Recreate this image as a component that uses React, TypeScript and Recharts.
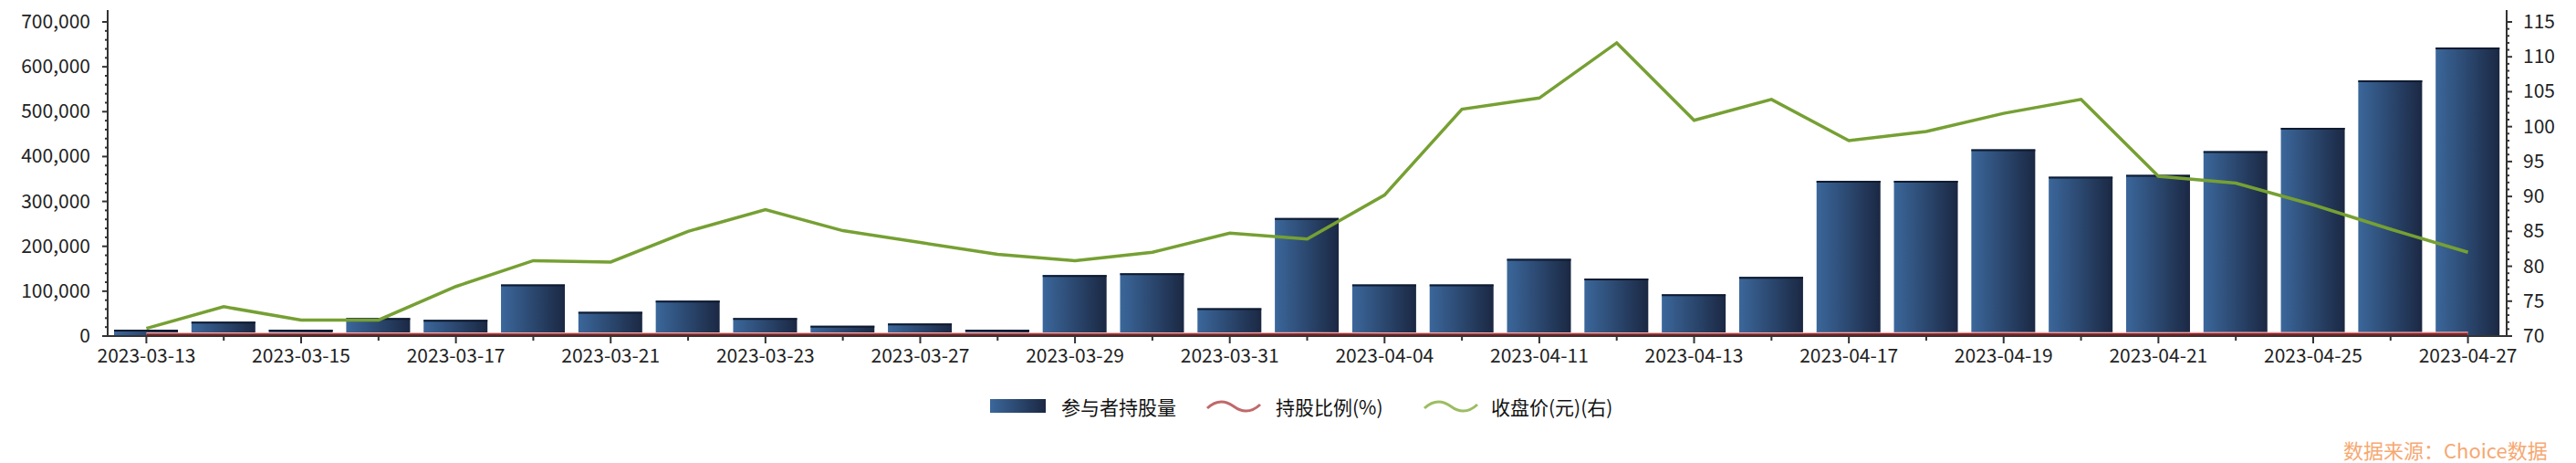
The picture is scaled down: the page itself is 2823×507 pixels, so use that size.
import React from 'react';
import { ComposedChart, Bar, Line, XAxis, YAxis } from 'recharts';

const dates = [
  '2023-03-13', '2023-03-14', '2023-03-15', '2023-03-16', '2023-03-17', '2023-03-20',
  '2023-03-21', '2023-03-22', '2023-03-23', '2023-03-24', '2023-03-27', '2023-03-28',
  '2023-03-29', '2023-03-30', '2023-03-31', '2023-04-03', '2023-04-04', '2023-04-06',
  '2023-04-11', '2023-04-12', '2023-04-13', '2023-04-14', '2023-04-17', '2023-04-18',
  '2023-04-19', '2023-04-20', '2023-04-21', '2023-04-24', '2023-04-25', '2023-04-26',
  '2023-04-27',
];

// 参与者持股量
const holdings = [
  14000, 32000, 14000, 40000, 36000, 115000, 54000, 79000, 40000, 23000, 28000, 14000,
  136000, 140000, 62000, 263000, 115000, 115000, 172000, 128000, 93000, 132000, 346000,
  346000, 416000, 355000, 359000, 412000, 464000, 570000, 643000,
];

// 持股比例(%)
const ratio = [
  0.01, 0.02, 0.01, 0.03, 0.02, 0.07, 0.03, 0.05, 0.03, 0.01, 0.02, 0.01, 0.08, 0.09, 0.04,
  0.17, 0.07, 0.07, 0.11, 0.08, 0.06, 0.08, 0.22, 0.22, 0.26, 0.22, 0.23, 0.26, 0.29, 0.36,
  0.41,
];

// 收盘价(元)
const close = [
  71.1, 74.2, 72.3, 72.3, 77.1, 80.8, 80.6, 85.0, 88.1, 85.1, 83.4, 81.7, 80.8, 82.0, 84.75,
  83.9, 90.2, 102.5, 104.1, 112.0, 100.9, 103.9, 98.0, 99.3, 101.9, 103.9, 92.9, 91.9, 88.8,
  85.3, 82.0,
];

const leftMajor = [0, 100000, 200000, 300000, 400000, 500000, 600000, 700000];
const rightMajor = [70, 75, 80, 85, 90, 95, 100, 105, 110, 115];

const leftTicks: number[] = [];
for (let v = 0; v <= 700000; v += 20000) leftTicks.push(v);
const rightTicks: number[] = [];
for (let v = 70; v <= 115; v += 1) rightTicks.push(v);

const data = dates.map((d, i) => ({
  date: d,
  holdings: holdings[i],
  ratio: ratio[i],
  close: close[i],
}));

const FONT = '"Microsoft YaHei","Noto Sans CJK SC","Noto Sans",sans-serif';
const AXIS = '#333';

const LeftTick = (props: any) => {
  const { x, y, payload } = props;
  const major = leftMajor.includes(payload.value);
  return (
    <g>
      <line x1={major ? x - 6 : x - 3} x2={x} y1={y} y2={y} stroke={AXIS} strokeWidth={2} />
      {major && (
        <text x={x - 19} y={y + 7} textAnchor="end" fontSize={21} fill="#222" fontFamily={FONT}>
          {payload.value.toLocaleString('en-US')}
        </text>
      )}
    </g>
  );
};

const RightTick = (props: any) => {
  const { x, y, payload } = props;
  const major = rightMajor.includes(payload.value);
  return (
    <g>
      <line x1={x} x2={major ? x + 6 : x + 3} y1={y} y2={y} stroke={AXIS} strokeWidth={2} />
      {major && (
        <text x={x + 18} y={y + 7} textAnchor="start" fontSize={21} fill="#222" fontFamily={FONT}>
          {payload.value}
        </text>
      )}
    </g>
  );
};

const BottomTick = (props: any) => {
  const { x, y, payload, index } = props;
  const labeled = index % 2 === 0;
  return (
    <g>
      <line x1={x} x2={x} y1={y} y2={y + (labeled ? 8 : 5)} stroke={AXIS} strokeWidth={2} />
      {labeled && (
        <text x={x} y={y + 29} textAnchor="middle" fontSize={21} fill="#222" fontFamily={FONT}>
          {payload.value}
        </text>
      )}
    </g>
  );
};

const BarShape = (props: any) => {
  const { x, y, width, height, index } = props;
  if (!height || height <= 0) return null;
  const id = `barGrad${index}`;
  return (
    <g>
      <defs>
        <linearGradient id={id} x1="0" y1="0" x2="1" y2="0">
          <stop offset="0%" stopColor="#3b679b" />
          <stop offset="100%" stopColor="#1b2843" />
        </linearGradient>
      </defs>
      <rect x={x} y={y} width={width} height={height} fill={`url(#${id})`} />
      <line x1={x} x2={x + width} y1={y + 1} y2={y + 1} stroke="#0f1b30" strokeWidth={2} />
    </g>
  );
};

const Wave = ({ color }: { color: string }) => (
  <svg width={62} height={18} style={{ display: 'block' }}>
    <path d="M2 11 Q 16 -2 31 9 T 60 7" fill="none" stroke={color} strokeWidth={3} />
  </svg>
);

const legendText: React.CSSProperties = {
  position: 'absolute',
  top: 431,
  fontSize: 21,
  fontFamily: FONT,
  color: '#111',
  lineHeight: '28px',
  whiteSpace: 'nowrap',
};

export default function App() {
  return (
    <div style={{ position: 'absolute', left: 0, top: 0, width: 2823, height: 507, background: '#fff' }}>
      <ComposedChart
        width={2823}
        height={507}
        data={data}
        margin={{ top: 11, right: 0, left: 0, bottom: 99 }}
        barCategoryGap={0}
      >
        <XAxis
          dataKey="date"
          interval={0}
          tickSize={0}
          tickMargin={0}
          height={40}
          tick={<BottomTick />}
          axisLine={{ stroke: AXIS, strokeWidth: 2 }}
        />
        <YAxis
          yAxisId="left"
          orientation="left"
          width={118}
          domain={[0, (700000 * 357) / 344]}
          ticks={leftTicks}
          interval={0}
          tickSize={0}
          tickMargin={0}
          tick={<LeftTick />}
          axisLine={{ stroke: AXIS, strokeWidth: 2 }}
          allowDataOverflow
        />
        <YAxis
          yAxisId="right"
          orientation="right"
          width={76}
          domain={[70, 70 + (45 * 357) / 344]}
          ticks={rightTicks}
          interval={0}
          tickSize={0}
          tickMargin={0}
          tick={<RightTick />}
          axisLine={{ stroke: AXIS, strokeWidth: 2 }}
          allowDataOverflow
        />
        <YAxis yAxisId="pct" hide domain={[-0.8, 200]} />
        <Bar
          yAxisId="left"
          dataKey="holdings"
          name="参与者持股量"
          barSize={70}
          shape={<BarShape />}
          isAnimationActive={false}
        />
        <Line
          yAxisId="pct"
          dataKey="ratio"
          name="持股比例(%)"
          stroke="#efb3b3"
          strokeWidth={5}
          dot={false}
          activeDot={false}
          legendType="none"
          isAnimationActive={false}
        />
        <Line
          yAxisId="pct"
          dataKey="ratio"
          name="持股比例(%)"
          stroke="#8e1f22"
          strokeWidth={2.5}
          dot={false}
          activeDot={false}
          isAnimationActive={false}
        />
        <Line
          yAxisId="right"
          dataKey="close"
          name="收盘价(元)(右)"
          stroke="#76a033"
          strokeWidth={3.5}
          dot={false}
          activeDot={false}
          isAnimationActive={false}
        />
      </ComposedChart>

      <div
        style={{
          position: 'absolute',
          left: 1085,
          top: 437,
          width: 61,
          height: 15,
          background: 'linear-gradient(to right, #3b679b, #1b2843)',
        }}
      />
      <div style={{ ...legendText, left: 1163 }}>参与者持股量</div>
      <div style={{ position: 'absolute', left: 1321, top: 436 }}>
        <Wave color="#c0696b" />
      </div>
      <div style={{ ...legendText, left: 1398 }}>持股比例(%)</div>
      <div style={{ position: 'absolute', left: 1559, top: 436 }}>
        <Wave color="#9cbd63" />
      </div>
      <div style={{ ...legendText, left: 1634 }}>收盘价(元)(右)</div>
      <div
        style={{
          position: 'absolute',
          left: 2568,
          top: 476,
          fontSize: 22,
          fontFamily: FONT,
          color: '#f6a872',
          whiteSpace: 'nowrap',
        }}
      >
        数据来源：Choice数据
      </div>
    </div>
  );
}
